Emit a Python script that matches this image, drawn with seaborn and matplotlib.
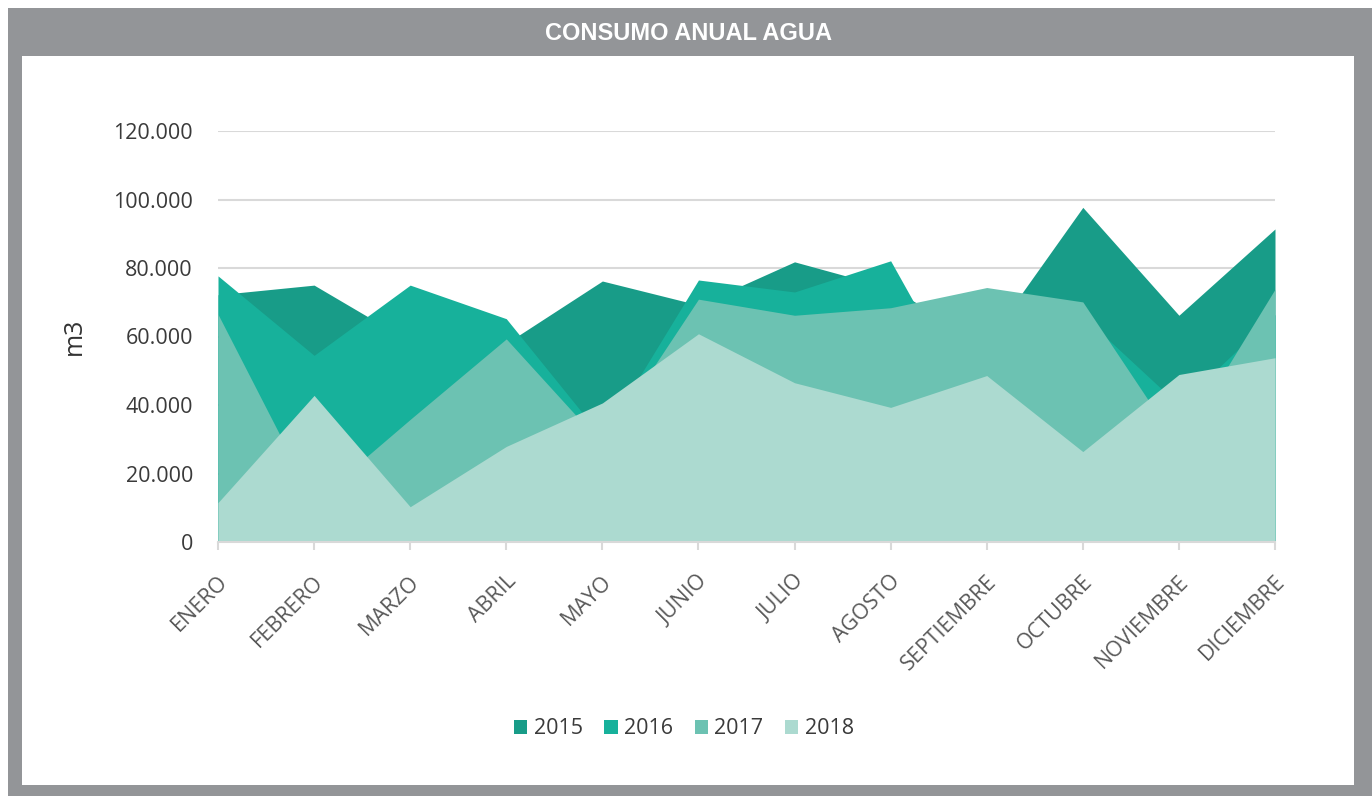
import matplotlib
matplotlib.use('agg')
import matplotlib.pyplot as plt
import matplotlib.transforms as mtransforms
from matplotlib.patches import Rectangle, Patch
import seaborn as sns
import pandas as pd

# datos (m3 por mes)
meses = ["ENERO", "FEBRERO", "MARZO", "ABRIL", "MAYO", "JUNIO", "JULIO",
         "AGOSTO", "SEPTIEMBRE", "OCTUBRE", "NOVIEMBRE", "DICIEMBRE"]
anios = ["2015", "2016", "2017", "2018"]
consumo_2015 = [72200, 75000, 58500, 58000, 76200, 69200, 81800, 74100, 58200, 97700, 66200, 91400]
consumo_2016 = [77700, 54500, 75000, 65200, 30500, 76500, 73000, 82100, 31900, 66000, 40000, 66400]
consumo_2017 = [66500, 11800, 35800, 59300, 28500, 70900, 66200, 68400, 74300, 70100, 28000, 73800]
consumo_2018 = [11500, 42800, 10300, 27900, 40600, 60800, 46500, 39300, 48600, 26400, 48900, 53800]
y_ticks = [0, 20000, 40000, 60000, 80000, 100000, 120000]

colores = ["#189c88", "#17b19b", "#6cc2b2", "#acdad0"]
gris = "#939598"

df = pd.DataFrame({"mes": meses, "2015": consumo_2015, "2016": consumo_2016,
                   "2017": consumo_2017, "2018": consumo_2018})

sns.set_theme(style="white")
plt.rcParams['font.family'] = ['Open Sans', 'DejaVu Sans']

W, H = 1372, 796
fig = plt.figure(figsize=(W / 100, H / 100), dpi=100)
fig.patch.set_facecolor("white")

# marco gris con panel blanco (detras del eje)
fig.patches.append(Rectangle((8 / W, 0), (W - 8) / W, (H - 8) / H, transform=fig.transFigure,
                             facecolor=gris, edgecolor="none", zorder=-3))
fig.patches.append(Rectangle((22 / W, 11 / H), (1354 - 22) / W, (785 - 56) / H, transform=fig.transFigure,
                             facecolor="white", edgecolor="none", zorder=-2))
fig.text(688 / W, 1 - 34 / H, "CONSUMO ANUAL AGUA", color="white", fontsize=17,
         fontweight="bold", family=["Liberation Sans", "DejaVu Sans"], ha="center", va="center")

ax = fig.add_axes([218 / W, 1 - 542 / H, (1275 - 218) / W, (542 - 131) / H])
ax.set_facecolor("none")

x = list(range(len(meses)))
for anio, col in zip(anios, colores):
    ax.fill_between(x, df[anio], 0, color=col, lw=0, label=anio)

ax.set_xlim(0, len(meses) - 1)
ax.set_ylim(0, 120000)
ax.set_xticks(x)
ax.set_xticklabels(df["mes"])
ax.set_yticks(y_ticks)
ax.set_yticklabels([f"{v:,}".replace(",", ".") for v in y_ticks])

ax.grid(axis="y", color="#d9d9d9", lw=1.5)
ax.grid(axis="x", visible=False)
ax.set_axisbelow(True)
sns.despine(ax=ax, left=True)
ax.spines["bottom"].set_color("#d9d9d9")
ax.spines["bottom"].set_linewidth(1.5)

ax.tick_params(axis="x", bottom=True, length=6, width=1.5, color="#d9d9d9", pad=15,
               labelsize=15.5, labelcolor="#595959")
ax.tick_params(axis="y", left=False, length=0, pad=18, labelsize=15.5, labelcolor="#3a3a3a")

offset = mtransforms.ScaledTranslation(-1 / 100, 0, fig.dpi_scale_trans)
for lbl in ax.get_xticklabels():
    lbl.set_rotation(45)
    lbl.set_ha("right")
    lbl.set_va("top")
    lbl.set_rotation_mode("anchor")
    lbl.set_transform(lbl.get_transform() + offset)

ax.set_ylabel("m3", fontsize=18, color="#333333")
ax.yaxis.set_label_coords((87 - 218) / (1275 - 218), 0.5)

handles = [Patch(facecolor=c, edgecolor="none", label=a) for a, c in zip(anios, colores)]
leg = fig.legend(handles=handles, loc="center", bbox_to_anchor=(684 / W, 1 - 729 / H), ncol=4,
                 frameon=False, fontsize=15.5, handlelength=0.62, handleheight=0.62,
                 handletextpad=0.3, columnspacing=1.0)
for t in leg.get_texts():
    t.set_color("#3a3a3a")

fig.savefig("out.png", dpi=100)
plt.close()
